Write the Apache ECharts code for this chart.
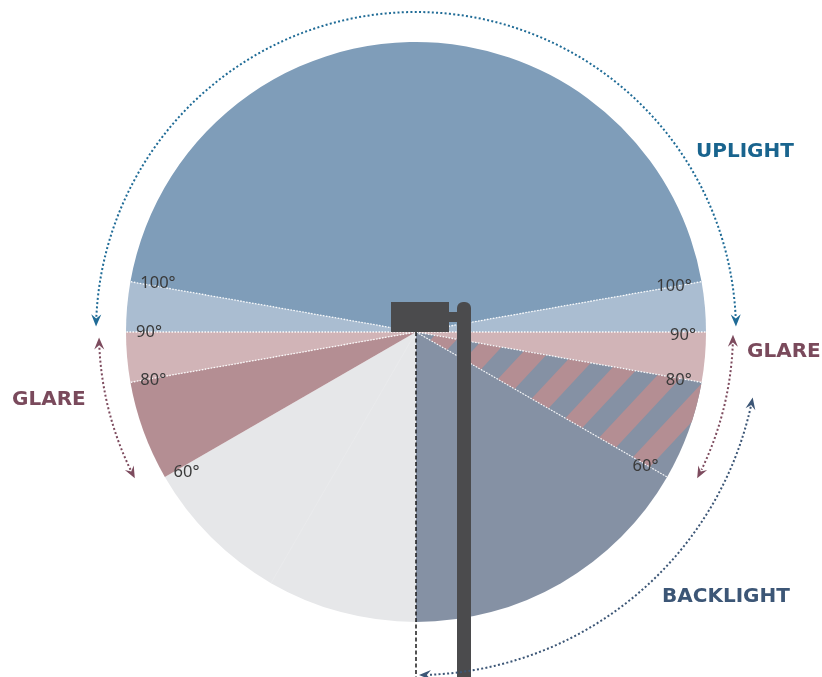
<!DOCTYPE html>
<html><head><meta charset="utf-8">
<script src="https://cdn.jsdelivr.net/npm/echarts@6/dist/echarts.min.js"></script>
<style>html,body{margin:0;padding:0;background:#fff}#chart{width:822px;height:677px}</style>
</head><body><div id="chart"></div>
<script>
// ---- Data (polar angle axis: 0 = nadir, values increase clockwise through the front side) ----
const zoneNames = ['Front low', 'Front mid', 'Front high', 'Front very high', 'Uplight', 'Back very high', 'Back high', 'Back mid', 'Back low'];
const zoneFrom = [0, 60, 80, 90, 100, 260, 270, 280, 300];
const zoneTo = [60, 80, 90, 100, 260, 270, 280, 300, 360];
const zoneRadius = 290;
const dividerAngles = [80, 90, 100, 260, 270, 280, 300];
const faintDividerAngles = [30];
const tickLabels = ['100°', '90°', '80°', '60°'];
const tickAngles = [100, 90, 80, 60];
const arrowNames = ['UPLIGHT', 'GLARE', 'GLARE', 'BACKLIGHT'];
const arrowFrom = [91, 62.5, 270.5, 281];
const arrowTo = [269, 89, 297.5, 359.5];
const arrowRadius = [320, 317, 317, 343];
const nadirLineRadius = 345;

// ---- Styles ----
const HATCH_A = '#8591a4', HATCH_B = '#b48e93';
const hatchZone = 7;            // index of the striped zone
const hatchPeriod = 38;         // px, perpendicular
const hatchAngle = 47 * Math.PI / 180;
const hatchAnchor = [197, 35];  // offset from centre where a stripe begins
const zoneFills = ['#e6e7e9', '#b48e93', '#d1b4b7', '#aabdd1', '#7f9db9', '#aabdd1', '#d1b4b7', HATCH_A, '#8591a4'];
const arrowColors = ['#1f6b96', '#7d4b5e', '#7d4b5e', '#3c5676'];
const labelColor = '#3a3a3a';

function ang(p, c) { return Math.atan2(p[1] - c[1], p[0] - c[0]); }
function span(api, r, a0, a1) {
  const c = api.coord([0, 0]);
  const p = api.coord([r, a0]), q = api.coord([r, a1]);
  const rr = Math.hypot(p[0] - c[0], p[1] - c[1]);
  let s = ang(p, c), e = ang(q, c);
  while (e <= s) e += Math.PI * 2;
  return { c, r: rr, s, e };
}
// clip convex polygon by half-plane  dot(p - O, n) >= k   (sign = 1) or <= k (sign = -1)
function clipHalf(poly, O, n, k, sign) {
  const out = [];
  const f = p => sign * (((p[0] - O[0]) * n[0] + (p[1] - O[1]) * n[1]) - k);
  for (let i = 0; i < poly.length; i++) {
    const a = poly[i], b = poly[(i + 1) % poly.length];
    const fa = f(a), fb = f(b);
    if (fa >= 0) out.push(a);
    if ((fa >= 0) !== (fb >= 0)) {
      const t = fa / (fa - fb);
      out.push([a[0] + (b[0] - a[0]) * t, a[1] + (b[1] - a[1]) * t]);
    }
  }
  return out;
}

const option = {
  animation: false,
  polar: { center: [416, 332], radius: 345 },
  radiusAxis: { type: 'value', min: 0, max: 345, show: false },
  angleAxis: { type: 'value', min: 0, max: 360, startAngle: 270, clockwise: true, show: false },
  graphic: [
    { type: 'text', x: 696, y: 152, style: { text: 'UPLIGHT', font: 'bold 20px "DejaVu Sans"', fill: '#19648e', verticalAlign: 'middle' } },
    { type: 'text', x: 12, y: 400, style: { text: 'GLARE', font: 'bold 20px "DejaVu Sans"', fill: '#7a4a5c', verticalAlign: 'middle' } },
    { type: 'text', x: 747, y: 352, style: { text: 'GLARE', font: 'bold 20px "DejaVu Sans"', fill: '#7a4a5c', verticalAlign: 'middle' } },
    { type: 'text', x: 662, y: 597, style: { text: 'BACKLIGHT', font: 'bold 20px "DejaVu Sans"', fill: '#3c5676', verticalAlign: 'middle' } }
  ],
  series: [
    { // zones
      type: 'custom', coordinateSystem: 'polar', clip: false, z: 1,
      data: zoneFrom.map((f, i) => [zoneRadius, f, zoneTo[i]]),
      renderItem(params, api) {
        const i = params.dataIndex;
        const g = span(api, zoneRadius, zoneFrom[i], zoneTo[i]);
        const sector = { type: 'sector', shape: { cx: g.c[0], cy: g.c[1], r0: 0, r: g.r, startAngle: g.s, endAngle: g.e, clockwise: true },
                 style: { fill: zoneFills[i] } };
        if (i !== hatchZone) return sector;
        // stripes clipped to the sector outline
        const poly = [[g.c[0], g.c[1]]];
        const steps = 40;
        for (let k = 0; k <= steps; k++) {
          const t = g.s + (g.e - g.s) * k / steps;
          poly.push([g.c[0] + g.r * Math.cos(t), g.c[1] + g.r * Math.sin(t)]);
        }
        const n = [Math.sin(hatchAngle), Math.cos(hatchAngle)];
        const O = [g.c[0] + hatchAnchor[0], g.c[1] + hatchAnchor[1]];
        const children = [sector];
        for (let k = -20; k <= 20; k++) {
          let p = clipHalf(poly, O, n, k * hatchPeriod, 1);
          if (p.length < 3) continue;
          p = clipHalf(p, O, n, k * hatchPeriod + hatchPeriod / 2, -1);
          if (p.length < 3) continue;
          children.push({ type: 'polygon', shape: { points: p }, style: { fill: HATCH_B } });
        }
        return { type: 'group', children };
      }
    },
    { // dividers
      type: 'custom', coordinateSystem: 'polar', clip: false, z: 2,
      data: dividerAngles.map(a => [zoneRadius, a, 1]).concat(faintDividerAngles.map(a => [zoneRadius, a, 0])),
      renderItem(params, api) {
        const c = api.coord([0, 0]);
        const p = api.coord([api.value(0), api.value(1)]);
        const strong = api.value(2) === 1;
        return { type: 'line', shape: { x1: c[0], y1: c[1], x2: p[0], y2: p[1] },
                 style: { stroke: '#ffffff', lineWidth: strong ? 1.3 : 0.7, lineDash: strong ? [1.5, 1.5] : null, opacity: strong ? 0.95 : 0.2 } };
      }
    },
    { // nadir dashed line + pole + luminaire
      type: 'custom', coordinateSystem: 'polar', clip: false, z: 3,
      data: [[nadirLineRadius, 0]],
      renderItem(params, api) {
        const c = api.coord([0, 0]);
        const b = api.coord([api.value(0), api.value(1)]);
        return { type: 'group', children: [
          { type: 'line', shape: { x1: c[0], y1: c[1], x2: b[0], y2: b[1] }, style: { stroke: '#1a1a1a', lineWidth: 1.5, lineDash: [4, 2.5] } },
          { type: 'rect', shape: { x: c[0] + 41, y: c[1] - 30, width: 14, height: b[1] - c[1] + 40, r: [6, 6, 0, 0] }, style: { fill: '#4b4b4d' } },
          { type: 'rect', shape: { x: c[0] + 32, y: c[1] - 20, width: 10, height: 10 }, style: { fill: '#4b4b4d' } },
          { type: 'rect', shape: { x: c[0] - 25, y: c[1] - 30, width: 58, height: 30 }, style: { fill: '#4b4b4d' } }
        ] };
      }
    },
    { // degree labels
      type: 'custom', coordinateSystem: 'polar', clip: false, z: 4,
      data: tickAngles.flatMap(a => [[280, a], [280, 360 - a]]),
      renderItem(params, api) {
        const i = Math.floor(params.dataIndex / 2), back = params.dataIndex % 2 === 1;
        const p = api.coord([api.value(0), api.value(1)]);
        const dy = back && tickAngles[i] === 60 ? -6 : (back && tickAngles[i] >= 90 ? 3 : 0);
        return { type: 'text', x: p[0], y: p[1] + dy,
                 style: { text: tickLabels[i], font: '16.5px "Noto Sans"', fill: labelColor, align: back ? 'right' : 'left', verticalAlign: 'middle' } };
      }
    },
    { // arrows
      type: 'custom', coordinateSystem: 'polar', clip: false, z: 5,
      data: arrowFrom.map((f, i) => [arrowRadius[i], f, arrowTo[i]]),
      renderItem(params, api) {
        const i = params.dataIndex;
        const g = span(api, arrowRadius[i], arrowFrom[i], arrowTo[i]);
        const L = 12, W = 10, d = (L * 0.8) / g.r;
        const col = arrowColors[i];
        function head(theta, dir) {
          const T = [g.c[0] + g.r * Math.cos(theta), g.c[1] + g.r * Math.sin(theta)];
          const tx = -Math.sin(theta) * dir, ty = Math.cos(theta) * dir;
          const nx = -ty, ny = tx;
          const B = [T[0] - tx * L, T[1] - ty * L];
          const N = [T[0] - tx * L * 0.65, T[1] - ty * L * 0.65];
          return { type: 'polygon', shape: { points: [T, [B[0] + nx * W / 2, B[1] + ny * W / 2], N, [B[0] - nx * W / 2, B[1] - ny * W / 2]] }, style: { fill: col } };
        }
        return { type: 'group', children: [
          { type: 'arc', shape: { cx: g.c[0], cy: g.c[1], r: g.r, startAngle: g.s + d, endAngle: g.e - d, clockwise: true },
            style: { stroke: col, fill: null, lineWidth: 2, lineDash: [2, 2.3] } },
          head(g.s, -1), head(g.e, 1)
        ] };
      }
    }
  ]
};
const chart = echarts.init(document.getElementById('chart'), null, { renderer: 'canvas' });
chart.setOption(option);
</script>
</body></html>
